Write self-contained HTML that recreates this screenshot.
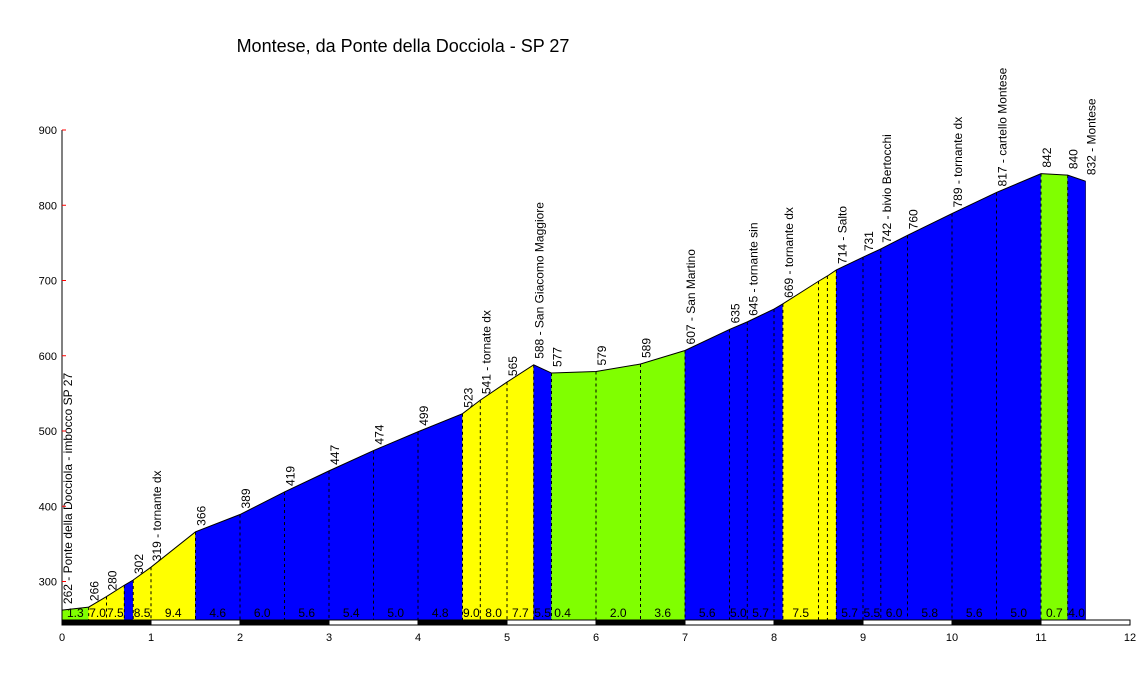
<!DOCTYPE html>
<html><head><meta charset="utf-8"><style>
html,body{margin:0;padding:0;background:#fff}
svg{display:block;font-family:"Liberation Sans",Arial,sans-serif}
</style></head><body>
<svg id="chart" width="1136" height="673" viewBox="0 0 1136 673" xmlns="http://www.w3.org/2000/svg">
<text x="403" y="52" font-size="18" text-anchor="middle">Montese, da Ponte della Docciola - SP 27</text>
<g id="fills"></g><g id="dashes"></g><g id="outline"></g><g id="labels"></g><g id="axes"></g>
</svg>
<script>
const kms   = [0,0.3,0.5,0.7,0.8,1.0,1.5,2.0,2.5,3.0,3.5,4.0,4.5,4.7,5.0,5.3,5.5,5.75,6.0,6.5,7.0,7.5,7.7,8.0,8.1,8.5,8.6,8.7,9.0,9.2,9.5,10.0,10.5,11.0,11.3,11.5];
const elevs = [262,266,280,295,302,319,366,389,419,447,474,499,523,541,565,588,577,578,579,589,607,635,645,662,669,699,706,714,731,742,760,789,817,842,840,832];
const pointLabels = ["262 - Ponte della Docciola - imbocco SP 27","266","280","","302","319 - tornante dx","366","389","419","447","474","499","523","541 - tornate dx","565","588 - San Giacomo Maggiore","577","","579","589","607 - San Martino","635","645 - tornante sin","","669 - tornante dx","","","714 - Salto","731","742 - bivio Bertocchi","760","789 - tornante dx","817 - cartello Montese","842","840","832 - Montese"];
const gradeLabels = ["1.3","7.0","7.5","","8.5","9.4","4.6","6.0","5.6","5.4","5.0","4.8","9.0","8.0","7.7","5.5","0.4","","2.0","3.6","5.6","5.0","5.7","","7.5","","","5.7","5.5","6.0","5.8","5.6","5.0","0.7","4.0"];
const segColors = ["g","y","y","b","y","y","b","b","b","b","b","b","y","y","y","b","g","g","g","g","b","b","b","b","y","y","y","b","b","b","b","b","b","g","b"];
const xTicks = [0,1,2,3,4,5,6,7,8,9,10,11,12];
const yTicks = [300,400,500,600,700,800,900];

const X = km => 62 + km*89;
const Y = e => 581.5 - (e-300)*451.5/600;
const BASE = 620;
const NS = "http://www.w3.org/2000/svg";
const col = {g:"#80ff00",y:"#ffff00",b:"#0000ff"};
function mk(tag, parent, attrs){const el=document.createElementNS(NS,tag);for(const k in attrs)el.setAttribute(k,attrs[k]);document.getElementById(parent).appendChild(el);return el;}

for(let i=0;i<kms.length-1;i++){
  const p = mk("polygon","fills",{points:`${X(kms[i])},${BASE} ${X(kms[i])},${Y(elevs[i])} ${X(kms[i+1])},${Y(elevs[i+1])} ${X(kms[i+1])},${BASE}`,fill:col[segColors[i]],stroke:col[segColors[i]],"stroke-width":0.5});
  
  
  if(gradeLabels[i]){
    const t = mk("text","labels",{x:(X(kms[i])+X(kms[i+1]))/2,y:617,"font-size":12,"text-anchor":"middle"});
    t.textContent = gradeLabels[i];
    
    
  }
}
for(let i=1;i<kms.length-1;i++){
  if(kms[i]===5.75) continue;
  const d = mk("line","dashes",{x1:X(kms[i]),x2:X(kms[i]),y1:Y(elevs[i]),y2:BASE,stroke:"#000","stroke-width":1,"stroke-dasharray":"3,3"});
  
  
}
const pts = kms.map((k,i)=>`${X(k)},${Y(elevs[i])}`).join(" ");
const ol = mk("polyline","outline",{points:pts,fill:"none",stroke:"#000","stroke-width":1});


const endL = mk("line","outline",{x1:X(kms[kms.length-1]),x2:X(kms[kms.length-1]),y1:Y(elevs[elevs.length-1]),y2:BASE,stroke:"#000","stroke-width":0.5});



for(let i=0;i<kms.length;i++){
  if(!pointLabels[i]) continue;
  const x = X(kms[i])+10, y = Y(elevs[i])-6;
  const t = mk("text","labels",{x:x,y:y,"font-size":12,transform:`rotate(-90 ${x} ${y})`});
  t.textContent = pointLabels[i];
  
  
}

// axes
const ya = mk("line","axes",{x1:62,x2:62,y1:130,y2:620,stroke:"#000","stroke-width":1});


yTicks.forEach(v=>{
  const tk = mk("line","axes",{x1:62,x2:66,y1:Y(v),y2:Y(v),stroke:"#ff0000","stroke-width":1});
  
  
  const t = mk("text","axes",{x:57,y:Y(v)+4,"font-size":11,"text-anchor":"end"});
  t.textContent = v;
  
  
});
for(let i=0;i<xTicks.length-1;i++){
  const r = mk("rect","axes",{x:X(xTicks[i]),y:620,width:89,height:5,fill:(i%2===0)?"#000":"#fff",stroke:"#000","stroke-width":1});
  
  
}
xTicks.forEach(v=>{
  const t = mk("text","axes",{x:X(v),y:641,"font-size":11,"text-anchor":"middle"});
  t.textContent = v;
  
  
});
</script>
</body></html>
